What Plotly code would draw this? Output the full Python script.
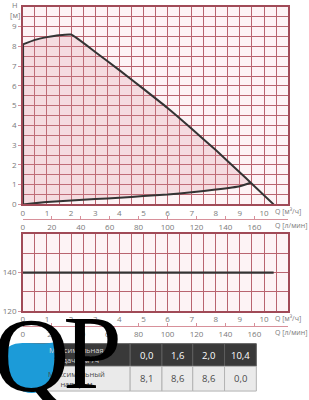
import plotly.graph_objects as go

W, H = 309, 400
def fx(p): return p / W
def fy(p): return 1 - p / H

# ---------------- data ----------------
pump_q = [0, 0.5, 1.0, 1.5, 2.0, 3, 4, 5, 6, 7, 8, 9, 9.45, 10.4]
pump_h = [8.1, 8.33, 8.47, 8.57, 8.6, 7.72, 6.8, 5.85, 4.88, 3.83, 2.75, 1.62, 1.1, 0.0]
sys_q = [0, 1, 2, 3, 4, 5, 6, 7, 8, 9, 9.45]
sys_h = [0, 0.12, 0.2, 0.27, 0.34, 0.42, 0.5, 0.62, 0.75, 0.92, 1.1]
power_q = [0.0, 10.4]
power_w = [140, 140]
q_ticks = [0, 1, 2, 3, 4, 5, 6, 7, 8, 9, 10]
h_ticks = [0, 1, 2, 3, 4, 5, 6, 7, 8, 9]
lmin_ticks = [0, 20, 40, 60, 80, 100, 120, 140, 160]
p_ticks = [120, 140]
table_flow = [0.0, 1.6, 2.0, 10.4]
table_head = [8.1, 8.6, 8.6, 0.0]
row_labels = ["Максимальная<br>подача, м³/ч", "Максимальный<br>напор, м"]

Q_MAX = 11
LMIN_MAX = Q_MAX * 1000 / 60

GRID = "#b8646f"
BORDER = "#a04a57"
AXPINK = "#d7909a"
TXT = "#7a7a7a"
DARK = "#333333"
FONT = "Open Sans"

fig = go.Figure()

n_int = pump_q.index(sys_q[-1])
poly_x = sys_q[:1] + pump_q[:n_int + 1] + sys_q[::-1]
poly_y = sys_h[:1] + pump_h[:n_int + 1] + sys_h[::-1]
fig.add_trace(go.Scatter(x=poly_x, y=poly_y, mode="lines", fill="toself",
                         fillcolor="rgba(220,135,150,0.22)",
                         line=dict(width=0, shape="spline", smoothing=0.4),
                         xaxis="x", yaxis="y", hoverinfo="skip", showlegend=False))
fig.add_trace(go.Scatter(x=[pump_q[0], pump_q[0]], y=[sys_h[0], pump_h[0]], mode="lines",
                         line=dict(color=DARK, width=2.4), xaxis="x", yaxis="y",
                         hoverinfo="skip", showlegend=False))
fig.add_trace(go.Scatter(x=pump_q, y=pump_h, mode="lines",
                         line=dict(color=DARK, width=2, shape="spline", smoothing=0.4),
                         xaxis="x", yaxis="y", hoverinfo="skip", showlegend=False))
fig.add_trace(go.Scatter(x=sys_q, y=sys_h, mode="lines",
                         line=dict(color=DARK, width=2, shape="spline", smoothing=0.6),
                         xaxis="x", yaxis="y", hoverinfo="skip", showlegend=False))
fig.add_trace(go.Scatter(x=[0, LMIN_MAX], y=[None, None], mode="lines",
                         xaxis="x2", yaxis="y", hoverinfo="skip", showlegend=False))
fig.add_trace(go.Scatter(x=power_q, y=power_w, mode="lines",
                         line=dict(color=DARK, width=2.2), xaxis="x3", yaxis="y2",
                         hoverinfo="skip", showlegend=False))
fig.add_trace(go.Scatter(x=[0, LMIN_MAX], y=[None, None], mode="lines",
                         xaxis="x4", yaxis="y2", hoverinfo="skip", showlegend=False))

tickfont = dict(family=FONT, size=8, color=TXT)
common_x = dict(range=[0, Q_MAX], domain=[fx(21), fx(288)], showline=True, mirror=True,
                linecolor=BORDER, linewidth=1.5, showgrid=True, gridcolor=GRID,
                gridwidth=1, zeroline=False, tickvals=q_ticks, ticks="",
                tickfont=tickfont,
                minor=dict(tick0=0, dtick=0.5, showgrid=True, gridcolor=GRID, gridwidth=1))
lmin_x = dict(range=[0, LMIN_MAX], anchor="free", side="bottom", showline=True,
              linecolor=AXPINK, linewidth=1.2, tickvals=lmin_ticks, ticks="inside",
              ticklen=3, tickcolor=AXPINK, showgrid=False, zeroline=False,
              tickfont=tickfont, domain=[fx(21), fx(288)])

fig.update_layout(
    width=W, height=H, margin=dict(l=0, r=0, t=0, b=0),
    paper_bgcolor="white", plot_bgcolor="#fdf3f5", showlegend=False,
    xaxis=dict(anchor="y", **common_x),
    yaxis=dict(range=[0, 10], domain=[fy(207), fy(7)], showline=True, mirror=True,
               linecolor=BORDER, linewidth=1.5, showgrid=True, gridcolor=GRID,
               zeroline=False, tickvals=h_ticks, ticks="outside", ticklen=3,
               tickcolor=AXPINK, tickfont=tickfont,
               minor=dict(tick0=0, dtick=0.5, showgrid=True, gridcolor=GRID)),
    xaxis2=dict(overlaying="x", position=fy(222), **lmin_x),
    xaxis3=dict(anchor="y2", **common_x),
    yaxis2=dict(range=[120, 160], domain=[fy(315), fy(237)], showline=True, mirror=True,
                linecolor=BORDER, linewidth=1.5, showgrid=True, gridcolor=GRID,
                zeroline=False, tickvals=p_ticks, ticks="outside", ticklen=3,
                tickcolor=AXPINK, tickfont=tickfont,
                minor=dict(tick0=120, dtick=10, showgrid=True, gridcolor=GRID)),
    xaxis4=dict(overlaying="x3", position=fy(330), **lmin_x),
)

def ann(text, x, y, xanchor="left", size=7, color=TXT, family=FONT):
    fig.add_annotation(text=text, x=fx(x), y=fy(y), xref="paper", yref="paper",
                       xanchor=xanchor, yanchor="middle", showarrow=False,
                       font=dict(family=family, size=size, color=color))

ann("H", 13, 5, "center", 7.5)
ann("[м]", 13, 15, "center", 7.5)
ann("Q [м³/ч]", 273, 214)
ann("Q [л/мин]", 273, 228)
ann("Q [м³/ч]", 273, 323)
ann("Q [л/мин]", 273, 337)

# ---- table drawn with shapes + text ----
col_x = [21, 129, 161, 192, 224, 256]
row_y = [348, 371, 396]
fmt = lambda v: f"{v:.1f}".replace(".", ",")
rows = [[row_labels[0]] + [fmt(v) for v in table_flow],
        [row_labels[1]] + [fmt(v) for v in table_head]]
fills = ["#393939", "#eaeaea"]
lines = ["#5e5e5e", "#b3b3b3"]
tcol = [["#d5d5d5"] + ["#ffffff"] * 4, ["#4a4a4a"] * 5]
for r, row in enumerate(rows):
    for c, txt in enumerate(row):
        fig.add_shape(type="rect", xref="paper", yref="paper",
                      x0=fx(col_x[c]), x1=fx(col_x[c + 1]),
                      y0=fy(row_y[r + 1]), y1=fy(row_y[r]),
                      fillcolor=fills[r], line=dict(color=lines[r], width=1),
                      layer="below")
        cx = (col_x[c] + col_x[c + 1]) / 2
        cy = (row_y[r] + row_y[r + 1]) / 2
        ann(txt, cx, cy, "center", 7.5 if c == 0 else 9.5, tcol[r][c])

# ---- "QP" watermark logo ----
def P(x, y): return f"{fx(x):.4f},{fy(y):.4f}"
blue = (f"M {P(6,352)} C {P(16,343)} {P(36,351)} {P(54,346)} "
        f"C {P(58,368)} {P(50,398)} {P(30,398)} "
        f"C {P(9,398)} {P(1,372)} {P(6,352)} Z")
fig.add_shape(type="path", path=blue, xref="paper", yref="paper",
              fillcolor="#1c9bd8", line=dict(width=0), layer="above")
fig.add_annotation(text="Q", x=fx(30), y=fy(360), xref="paper", yref="paper",
                   showarrow=False, xanchor="center", yanchor="middle",
                   font=dict(family="Liberation Serif", size=106, color="black"))
fig.add_annotation(text="P", x=fx(91), y=fy(357), xref="paper", yref="paper",
                   showarrow=False, xanchor="center", yanchor="middle",
                   font=dict(family="Liberation Serif", size=106, color="black"))

fig.write_html("out.html")
